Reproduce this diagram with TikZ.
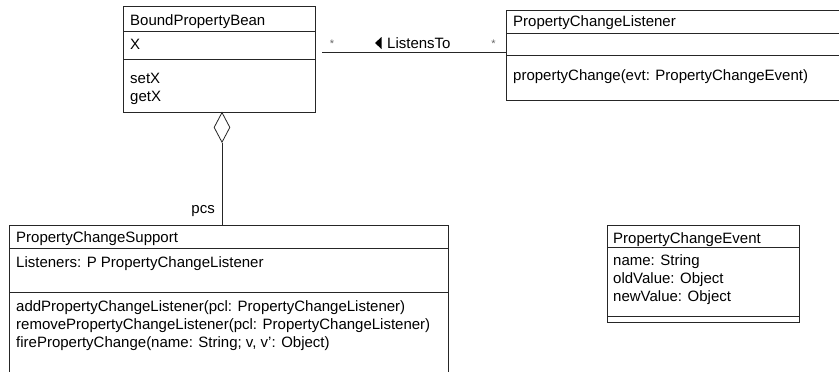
\documentclass[tikz,border=0pt]{standalone}
\usepackage{fontspec}
\setmainfont{Liberation Sans}
\usetikzlibrary{shapes.geometric}
\begin{document}
\begin{tikzpicture}[x=1pt,y=-1pt,
  umlbox/.style={draw=black!85,line width=0.8pt,rectangle,inner sep=0pt,anchor=north west},
  txt/.style={anchor=base west,inner sep=0pt,font=\fontsize{15}{18}\selectfont},
  divider/.style={draw=black!85,line width=0.8pt},
  conn/.style={draw=black!85,line width=0.8pt},
  mult/.style={inner sep=0pt,font=\fontsize{11}{12}\selectfont,text=black!60}]
\useasboundingbox (0,0) rectangle (839,372);
% BoundPropertyBean
\node[umlbox,minimum width=192pt,minimum height=106pt] (bpb) at (123,6) {};
\draw[divider] (123,31.5) -- (315,31.5);
\draw[divider] (123,59.5) -- (315,59.5);
\node[txt] (bpbt) at (130,25.5) {BoundPropertyBean};
\node[txt] (bpbx) at (130,49) {X};
\node[txt] (bpbs) at (130,83.5) {setX};
\node[txt] (bpbg) at (130,101.5) {getX};
% PropertyChangeListener
\node[umlbox,minimum width=340pt,minimum height=90pt] (pcl) at (506,10) {};
\draw[divider] (506,33) -- (846,33);
\draw[divider] (506,55) -- (846,55);
\node[txt] (pclt) at (513,27) {PropertyChangeListener};
\node[txt] (pclm) at (513,80) {propertyChange(evt: PropertyChangeEvent)};
% PropertyChangeSupport
\node[umlbox,minimum width=439pt,minimum height=160pt] (pcs) at (9,225) {};
\draw[divider] (9,248) -- (448,248);
\draw[divider] (9,292) -- (448,292);
\node[txt] (pcst) at (16,242) {PropertyChangeSupport};
\node[txt] (pcsa) at (16,267) {Listeners: P PropertyChangeListener};
\node[txt] (pcsm1) at (16,311.5) {addPropertyChangeListener(pcl: PropertyChangeListener)};
\node[txt] (pcsm2) at (16,329.5) {removePropertyChangeListener(pcl: PropertyChangeListener)};
\node[txt] (pcsm3) at (16,347) {firePropertyChange(name: String; v, v’: Object)};
% PropertyChangeEvent
\node[umlbox,minimum width=192pt,minimum height=97pt] (pce) at (607,225) {};
\draw[divider] (607,247) -- (799,247);
\draw[divider] (607,316) -- (799,316);
\node[txt] (pcet) at (613,243) {PropertyChangeEvent};
\node[txt] (pcea) at (613,265) {name: String};
\node[txt] (pceb) at (613,283.5) {oldValue: Object};
\node[txt] (pcec) at (613,301.5) {newValue: Object};
% aggregation
\node[diamond,draw=black!85,line width=0.8pt,fill=white,minimum width=16pt,minimum height=30pt,inner sep=0pt,anchor=north] (dia) at (222,112) {};
\draw[conn] (dia.south) -- (dia.south |- pcs.north);
\node[txt,anchor=base east] (pcslbl) at (215,213.5) {pcs};
% association
\coordinate (la) at (322,52.5);
\draw[conn] (la) -- (pcl.west |- la);
\node[mult] (m1) at (332,43.5) {*};
\node[mult] (m2) at (493.5,43.5) {*};
\fill[black] (381.5,37) -- (375,43) -- (381.5,49) -- cycle;
\node[txt] (assoc) at (387,48.5) {ListensTo};
\end{tikzpicture}
\end{document}
